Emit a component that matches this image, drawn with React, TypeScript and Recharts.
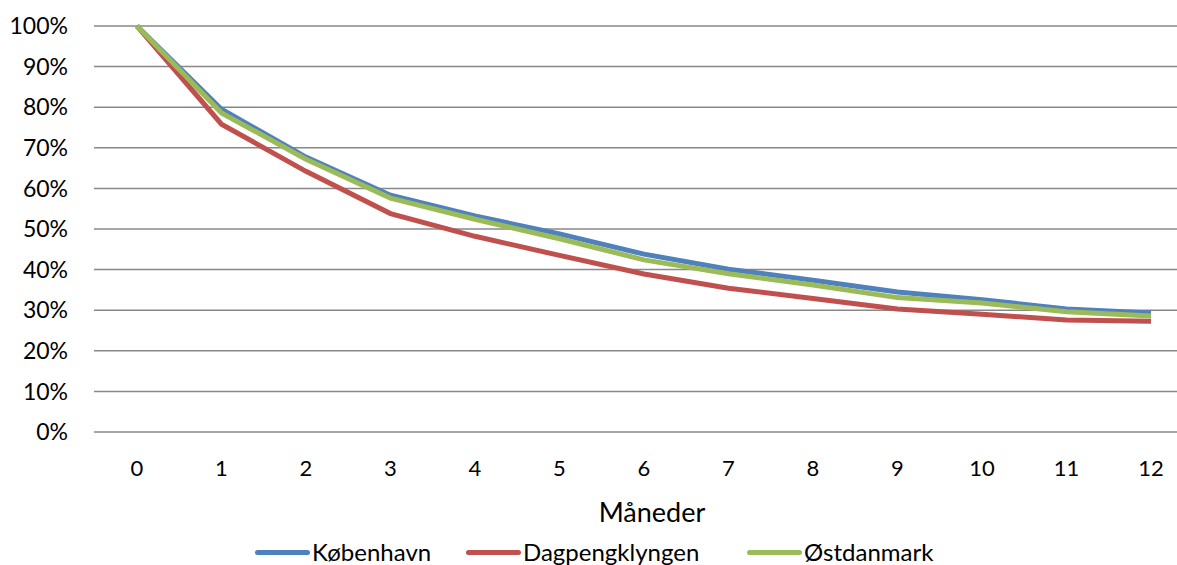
import React from 'react';
import { LineChart, Line, XAxis, YAxis, CartesianGrid } from 'recharts';

const months = ['0', '1', '2', '3', '4', '5', '6', '7', '8', '9', '10', '11', '12'];
const kobenhavn = [100, 79.5, 67.7, 58.3, 53.2, 48.8, 43.8, 40.1, 37.4, 34.5, 32.6, 30.3, 29.3];
const dagpengklyngen = [100, 75.8, 64.2, 53.8, 48.2, 43.5, 38.9, 35.4, 32.9, 30.3, 29.0, 27.6, 27.3];
const ostdanmark = [100, 78.6, 67.2, 57.6, 52.4, 47.6, 42.4, 39.0, 36.2, 33.1, 31.8, 29.6, 28.6];
const yTicks = [0, 10, 20, 30, 40, 50, 60, 70, 80, 90, 100];

const series = [
  { key: 'kobenhavn', name: 'København', color: '#4F81BD', legendX: 255 },
  { key: 'dagpengklyngen', name: 'Dagpengklyngen', color: '#C0504D', legendX: 466 },
  { key: 'ostdanmark', name: 'Østdanmark', color: '#9BBB59', legendX: 747 },
];

const data = months.map((m, i) => ({
  month: m,
  kobenhavn: kobenhavn[i],
  dagpengklyngen: dagpengklyngen[i],
  ostdanmark: ostdanmark[i],
}));

const font = 'Lato, "Open Sans", sans-serif';

const App: React.FC = () => {
  return (
    <div
      style={{
        position: 'absolute',
        left: 0,
        top: 0,
        width: 1177,
        height: 565,
        overflow: 'hidden',
        background: '#fff',
        fontFamily: font,
      }}
    >
      <LineChart width={1194} height={565} data={data} margin={{ top: 26, right: 0, left: 0, bottom: 0 }}>
        <CartesianGrid vertical={false} stroke="#888888" strokeWidth={1.5} />
        <XAxis
          dataKey="month"
          height={133}
          axisLine={false}
          tickLine={false}
          tickSize={0}
          tickMargin={28}
          interval={0}
          padding={{ left: 43, right: 43 }}
          tick={{ fill: '#000', fontSize: 22, fontFamily: font }}
          label={{
            value: 'Måneder',
            position: 'insideTop',
            offset: 71,
            dx: 8,
            fill: '#000',
            fontSize: 27,
            fontFamily: font,
          }}
        />
        <YAxis
          width={94}
          domain={[0, 100]}
          ticks={yTicks}
          axisLine={false}
          tickLine={false}
          tickSize={0}
          tickMargin={26}
          tickFormatter={(v: number) => `${v}%`}
          tick={{ fill: '#000', fontSize: 23, fontFamily: font }}
        />
        {series.map(s => (
          <Line
            key={s.key}
            type="linear"
            dataKey={s.key}
            name={s.name}
            stroke={s.color}
            strokeWidth={5}
            dot={false}
            activeDot={false}
            isAnimationActive={false}
          />
        ))}
      </LineChart>
      {series.map(s => (
        <div
          key={s.key}
          style={{
            position: 'absolute',
            left: s.legendX,
            top: 538,
            display: 'flex',
            alignItems: 'center',
            fontSize: 24,
            color: '#000',
            lineHeight: '28px',
            whiteSpace: 'nowrap',
          }}
        >
          <div style={{ width: 55, height: 5, borderRadius: 3, background: s.color, marginRight: 2 }} />
          <span>{s.name}</span>
        </div>
      ))}
    </div>
  );
};

export default App;
